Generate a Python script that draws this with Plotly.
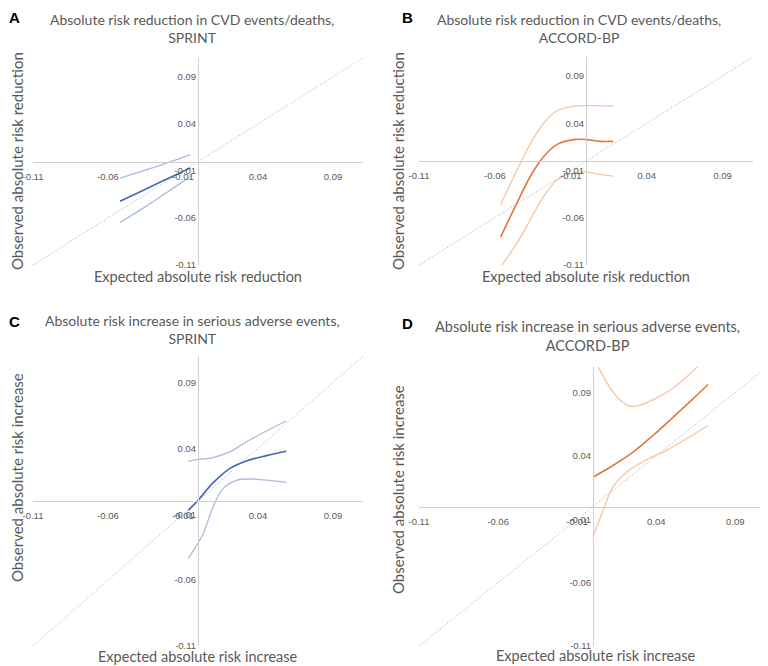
import plotly.graph_objects as go

# panel A - SPRINT, CVD events/deaths (absolute risk reduction)
a_x = [-0.052, -0.035, -0.02, -0.005]
a_est = [-0.0422, -0.0295, -0.018, -0.0068]
a_upper = [-0.0177, -0.0092, -0.0012, 0.0074]
a_lower = [-0.0648, -0.048, -0.032, -0.016]

# panel B - ACCORD-BP, CVD events/deaths
b_x = [-0.0562, -0.0457, -0.0369, -0.0281, -0.0193, -0.0084, 0.0004, 0.0092, 0.018]
b_est = [-0.0804, -0.0451, -0.0169, 0.0042, 0.0173, 0.0226, 0.0226, 0.0208, 0.0208]
b_upper = [-0.0461, -0.0105, 0.0175, 0.0394, 0.0529, 0.0579, 0.0586, 0.0584, 0.0582]
b_lower = [-0.112, -0.0874, -0.0627, -0.0381, -0.0204, -0.0127, -0.0116, -0.0141, -0.0159]

# panel C - SPRINT, serious adverse events (absolute risk increase)
c_x = [-0.0065, 0.0, 0.01, 0.0211, 0.0322, 0.0456, 0.0589]
c_est = [-0.0071, 0.0005, 0.0137, 0.0246, 0.0304, 0.0344, 0.0377]
c_upper = [0.0301, 0.0315, 0.0329, 0.0372, 0.0448, 0.0531, 0.0607]
c_lower = [-0.0435, -0.0248, -0.0045, 0.0094, 0.0157, 0.0167, 0.0142]
c_lower_x = [-0.0065, 0.0034, 0.01, 0.0167, 0.0256, 0.0345, 0.0589]

# panel D - ACCORD-BP, serious adverse events
d_x = [0.0, 0.0126, 0.0253, 0.0379, 0.0506, 0.0632, 0.0727]
d_est = [0.0231, 0.0323, 0.0428, 0.056, 0.0704, 0.0849, 0.0962]
d_upper_x = [0.0, 0.0105, 0.0169, 0.0232, 0.0295, 0.0379, 0.0484, 0.059, 0.0727]
d_upper = [0.118, 0.0941, 0.0841, 0.0791, 0.0797, 0.0841, 0.0915, 0.102, 0.119]
d_lower_x = [0.0, 0.0063, 0.0126, 0.0211, 0.0337, 0.0464, 0.059, 0.0727]
d_lower = [-0.0242, -0.0032, 0.0152, 0.0271, 0.0368, 0.0442, 0.0534, 0.0639]

ticks = [-0.11, -0.06, -0.01, 0.04, 0.09]
tick_text = ["-0.11", "-0.06", "-0.01", "0.04", "0.09"]
diag = [-0.11, 0.11]

# the page body has an 8px margin, so the figure is drawn 8px smaller and
# every screen position below is shifted back by that amount
OFF = 8
W, H = 768 - OFF, 666 - OFF
BLUE, BLUE_CI = "#4368B0", "#A8BBE0"
ORANGE, ORANGE_CI = "#E2773A", "#F5C4A4"
GREY = "#595959"


def px_x(v):
    return (v - OFF) / W


def px_y(v):
    return 1 - (v - OFF) / H


# screen pixel boxes of each plot area: left, right, top, bottom
panels = [
    dict(box=(33, 363, 58, 265), x=a_x, est=a_est, up=a_upper, lo=a_lower, c=BLUE, ci=BLUE_CI),
    dict(box=(419, 753, 57, 265), x=b_x, est=b_est, up=b_upper, lo=b_lower, c=ORANGE, ci=ORANGE_CI),
    dict(box=(33, 363, 356, 646), x=c_x, est=c_est, up=c_upper, lo=c_lower, lo_x=c_lower_x,
         c=BLUE, ci=BLUE_CI),
    dict(box=(419, 767, 367, 646), x=d_x, est=d_est, up=d_upper, up_x=d_upper_x, lo=d_lower,
         lo_x=d_lower_x, c=ORANGE, ci=ORANGE_CI),
]

fig = go.Figure()

for i, p in enumerate(panels, start=1):
    l, r, t, b = p["box"]
    xd = [px_x(l), min(px_x(r), 1.0)]
    yd = [px_y(b), px_y(t)]
    sfx = "" if i == 1 else str(i)
    xa, ya = "x" + sfx, "y" + sfx

    fig.add_trace(go.Scatter(x=diag, y=diag, mode="lines", xaxis=xa, yaxis=ya,
                             line=dict(color="#A8A8A8", width=1, dash="1px,2px")))
    fig.add_trace(go.Scatter(x=p.get("up_x", p["x"]), y=p["up"], mode="lines", xaxis=xa, yaxis=ya,
                             line=dict(color=p["ci"], width=1.3, shape="spline")))
    fig.add_trace(go.Scatter(x=p.get("lo_x", p["x"]), y=p["lo"], mode="lines", xaxis=xa, yaxis=ya,
                             line=dict(color=p["ci"], width=1.3, shape="spline")))
    fig.add_trace(go.Scatter(x=p["x"], y=p["est"], mode="lines", xaxis=xa, yaxis=ya,
                             line=dict(color=p["c"], width=1.6, shape="spline")))

    common = dict(range=[-0.11, 0.11], tickvals=ticks, ticktext=tick_text, showgrid=False,
                  zeroline=False, showline=True, linecolor="#D0D0D0", linewidth=1,
                  automargin=False,
                  tickfont=dict(family="Liberation Sans", size=9.5, color=GREY), fixedrange=True)
    # invisible ticks on x push the labels a little further below the axis line
    fig.layout["xaxis" + sfx] = dict(common, domain=xd, anchor="free", position=sum(yd) / 2,
                                     ticks="outside", ticklen=6, tickcolor="rgba(0,0,0,0)")
    fig.layout["yaxis" + sfx] = dict(common, domain=yd, anchor="free", position=sum(xd) / 2,
                                     ticks="")

# text: panel letters, titles, axis titles (screen pixel positions)
labels = [
    ("A", 15, 17, 15, True), ("B", 407, 17, 15, True),
    ("C", 15, 321, 15, True), ("D", 407, 323, 15, True),
    ("Absolute risk reduction in CVD events/deaths,<br>SPRINT", 192, 29, 14, False),
    ("Absolute risk reduction in CVD events/deaths,<br>ACCORD-BP", 579, 29, 14, False),
    ("Absolute risk increase in serious adverse events,<br>SPRINT", 192, 329, 14, False),
    ("Absolute risk increase in serious adverse events,<br>ACCORD-BP", 587, 336, 14.5, False),
    ("Expected absolute risk reduction", 198, 277, 14.5, False),
    ("Expected absolute risk reduction", 586, 277, 14.5, False),
    ("Expected absolute risk increase", 198, 656, 14.5, False),
    ("Expected absolute risk increase", 596, 655, 14.5, False),
]
for text, px, py, size, bold in labels:
    fig.add_annotation(text=text, x=px_x(px), y=px_y(py), xref="paper", yref="paper",
                       showarrow=False, xanchor="center", yanchor="middle",
                       font=dict(family="Liberation Sans" if bold else "Lato", size=size,
                                 color="black" if bold else GREY,
                                 weight="bold" if bold else "normal"))

ytitles = [
    ("Observed absolute risk reduction", 17, 161),
    ("Observed absolute risk reduction", 398, 161),
    ("Observed absolute risk increase", 17, 478),
    ("Observed absolute risk increase", 398, 490),
]
for text, px, py in ytitles:
    fig.add_annotation(text=text, x=px_x(px), y=px_y(py), xref="paper", yref="paper",
                       showarrow=False, textangle=-90, xanchor="center", yanchor="middle",
                       font=dict(family="Lato", size=15, color=GREY))

fig.update_layout(template="none", width=W, height=H, margin=dict(l=0, r=0, t=0, b=0),
                  plot_bgcolor="white", paper_bgcolor="white", showlegend=False)

fig.write_html("out.html")
